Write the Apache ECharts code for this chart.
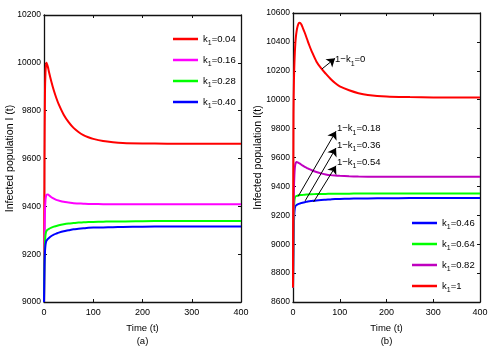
<!DOCTYPE html>
<html>
<head>
<meta charset="utf-8">
<script src="https://cdn.jsdelivr.net/npm/echarts@6/dist/echarts.min.js"></script>
<style>
  html, body { margin: 0; padding: 0; background: #fff; }
  #chart { width: 497px; height: 353px; }
</style>
</head>
<body>
<div id="chart"></div>
<script>
// panel (a): time points and I(t) for each k1
const timeA = [0, 1, 2, 3, 4, 5, 6, 8, 10, 15, 20, 25, 30, 40, 50, 60, 70, 80, 90, 100, 120, 140, 160, 200, 250, 300, 350, 400];
const aK004 = [9000, 9600, 9880, 9960, 9990, 10000, 10002, 9982, 9963, 9921, 9884, 9853, 9826, 9783, 9752, 9728, 9711, 9698, 9689, 9682, 9673, 9668, 9665, 9663, 9662, 9662, 9662, 9662];
const aK016 = [9000, 9250, 9380, 9425, 9442, 9449, 9451, 9450, 9446, 9438, 9432, 9427, 9424, 9419, 9416, 9413, 9412, 9411, 9410, 9410, 9409, 9409, 9409, 9409, 9409, 9409, 9409, 9409];
const aK028 = [9000, 9180, 9250, 9280, 9292, 9297, 9300, 9303, 9306, 9311, 9315, 9318, 9321, 9325, 9328, 9330, 9332, 9333, 9334, 9335, 9336, 9337, 9337, 9338, 9339, 9339, 9339, 9339];
const aK040 = [9000, 9150, 9210, 9238, 9250, 9256, 9259, 9264, 9268, 9276, 9282, 9286, 9290, 9296, 9300, 9304, 9306, 9308, 9310, 9311, 9312, 9313, 9314, 9315, 9316, 9316, 9316, 9316];
const namesA = ['k1=0.04', 'k1=0.16', 'k1=0.28', 'k1=0.40'];

// panel (b)
const timeB = [0, 1, 2, 3, 4, 5, 6, 8, 10, 12, 14, 16, 18, 20, 25, 30, 35, 40, 50, 60, 70, 80, 90, 100, 120, 140, 160, 200, 250, 300, 350, 400];
const bK046 = [8700, 9000, 9150, 9220, 9250, 9262, 9267, 9272, 9276, 9279, 9281, 9283, 9285, 9287, 9291, 9294, 9297, 9299, 9303, 9306, 9308, 9310, 9312, 9313, 9315, 9316, 9317, 9318, 9319, 9319, 9319, 9319];
const bK064 = [8700, 9050, 9230, 9300, 9322, 9330, 9332, 9334, 9337, 9338, 9339, 9340, 9340, 9341, 9343, 9344, 9345, 9346, 9347, 9348, 9348, 9349, 9349, 9350, 9350, 9351, 9351, 9351, 9351, 9351, 9351, 9351];
const bK082 = [8700, 9150, 9380, 9480, 9530, 9553, 9563, 9568, 9566, 9563, 9559, 9555, 9550, 9545, 9535, 9527, 9519, 9512, 9500, 9490, 9483, 9478, 9475, 9473, 9470, 9468, 9467, 9467, 9466, 9466, 9466, 9466];
const bK1 = [8700, 9900, 10130, 10250, 10330, 10390, 10430, 10480, 10510, 10527, 10532, 10530, 10520, 10505, 10465, 10420, 10375, 10335, 10265, 10218, 10180, 10145, 10115, 10092, 10065, 10045, 10033, 10022, 10018, 10016, 10015, 10015];
const namesB = ['k1=0.46', 'k1=0.64', 'k1=0.82', 'k1=1'];

// arrows in panel (b): tail -> head, and label text
const arrowTails = [[62, 10213], [11, 9331], [26, 9300], [44, 9292]];
const arrowHeads = [[90, 10286], [92, 9782], [92, 9666], [92, 9543]];
const arrowText = ['0', '0.18', '0.36', '0.54'];
const arrowTextPos = [[90, 10276], [94, 9800], [94, 9686], [94, 9568]];

const FONT = 'Liberation Sans, Arial, sans-serif';
const richSub = {
  n: { fontFamily: FONT, fontSize: 9.5, color: '#000', lineHeight: 15 },
  s: { fontFamily: FONT, fontSize: 7, color: '#000', lineHeight: 8, verticalAlign: 'bottom' }
};
function kLabel(prefix, rest) {
  return '{n|' + prefix + 'k}{s|1}{n|' + rest + '}';
}

const pairs = (ts, vs) => ts.map((t, i) => [t, vs[i]]);

function xAx(grid, pos, name, gap) {
  return {
    type: 'value', gridIndex: grid, position: pos, min: 0, max: 400, interval: 100,
    axisLine: { show: true, onZero: false, lineStyle: { color: '#111', width: 1.3 } },
    axisTick: { show: true, inside: true, length: 3, lineStyle: { color: '#111' } },
    axisLabel: { show: pos === 'bottom', margin: 6, fontFamily: FONT, fontSize: 9, color: '#000', formatter: v => String(v) },
    splitLine: { show: false },
    name: pos === 'bottom' ? name : '',
    nameLocation: 'middle', nameGap: gap,
    nameTextStyle: { fontFamily: FONT, fontSize: 9.5, color: '#000', lineHeight: 13 }
  };
}
function yAx(grid, pos, min, max, name, gap) {
  return {
    type: 'value', gridIndex: grid, position: pos, min: min, max: max, interval: 200,
    axisLine: { show: true, onZero: false, lineStyle: { color: '#111', width: 1.3 } },
    axisTick: { show: true, inside: true, length: 3, lineStyle: { color: '#111' } },
    axisLabel: { show: pos === 'left', margin: 3, fontFamily: FONT, fontSize: 8.5, color: '#000', formatter: v => String(v) },
    splitLine: { show: false },
    name: pos === 'left' ? name : '',
    nameLocation: 'middle', nameGap: gap || 0, nameMoveOverlap: false,
    nameTextStyle: { fontFamily: FONT, fontSize: 10.5, color: '#000' }
  };
}

function lineSeries(name, color, xi, yi, data, extra) {
  return Object.assign({
    name: name, type: 'line', xAxisIndex: xi, yAxisIndex: yi,
    data: data, showSymbol: false, symbol: 'none', smooth: 0.3,
    lineStyle: { color: color, width: 2 }, itemStyle: { color: color }
  }, extra || {});
}

const legendFmt = name => kLabel('', name.replace(/^k1/, ''));

const option = {
  animation: false,
  backgroundColor: '#fff',
  grid: [
    { left: 44, top: 15, width: 197, height: 287 },
    { left: 293, top: 13, width: 187, height: 293 }
  ],
  xAxis: [
    xAx(0, 'bottom', 'Time (t)\n(a)', 17),
    xAx(0, 'top'),
    xAx(1, 'bottom', 'Time (t)\n(b)', 20),
    xAx(1, 'top')
  ],
  yAxis: [
    yAx(0, 'left', 9000, 10200, 'Infected population I (t)', 28),
    yAx(0, 'right', 9000, 10200),
    yAx(1, 'left', 8600, 10600, 'Infected population I(t)', 29),
    yAx(1, 'right', 8600, 10600)
  ],
  legend: [
    {
      data: namesA, orient: 'vertical', left: 173, top: 34, itemWidth: 25, itemHeight: 2.5,
      itemGap: 8.5, icon: 'rect', formatter: legendFmt, textStyle: { rich: richSub }, padding: 0
    },
    {
      data: namesB, orient: 'vertical', left: 412, top: 218, itemWidth: 25, itemHeight: 2.5,
      itemGap: 8.5, icon: 'rect', formatter: legendFmt, textStyle: { rich: richSub }, padding: 0
    }
  ],
  series: [
    lineSeries(namesA[0], '#ff0000', 0, 0, pairs(timeA, aK004)),
    lineSeries(namesA[1], '#ff00ff', 0, 0, pairs(timeA, aK016)),
    lineSeries(namesA[2], '#00ff00', 0, 0, pairs(timeA, aK028)),
    lineSeries(namesA[3], '#0000ff', 0, 0, pairs(timeA, aK040)),
    lineSeries(namesB[0], '#0000ff', 2, 2, pairs(timeB, bK046)),
    lineSeries(namesB[1], '#00ff00', 2, 2, pairs(timeB, bK064)),
    lineSeries(namesB[2], '#bf00bf', 2, 2, pairs(timeB, bK082)),
    lineSeries(namesB[3], '#ff0000', 2, 2, pairs(timeB, bK1), {
      markLine: {
        silent: true,
        symbol: ['none', 'arrow'], symbolSize: 8,
        itemStyle: { color: '#000' },
        lineStyle: { color: '#000', width: 1, type: 'solid' },
        label: { show: false },
        emphasis: { disabled: true },
        data: arrowTails.map((p, i) => [{ coord: p }, { coord: arrowHeads[i] }])
      },
      markPoint: {
        silent: true,
        symbol: 'circle', symbolSize: 0,
        data: arrowTextPos.map((p, i) => ({
          coord: p,
          label: { show: true, position: 'right', distance: 0, formatter: kLabel('1\u2212', '=' + arrowText[i]), rich: richSub }
        }))
      }
    })
  ]
};

const chart = echarts.init(document.getElementById('chart'));
chart.setOption(option);
</script>
</body>
</html>
